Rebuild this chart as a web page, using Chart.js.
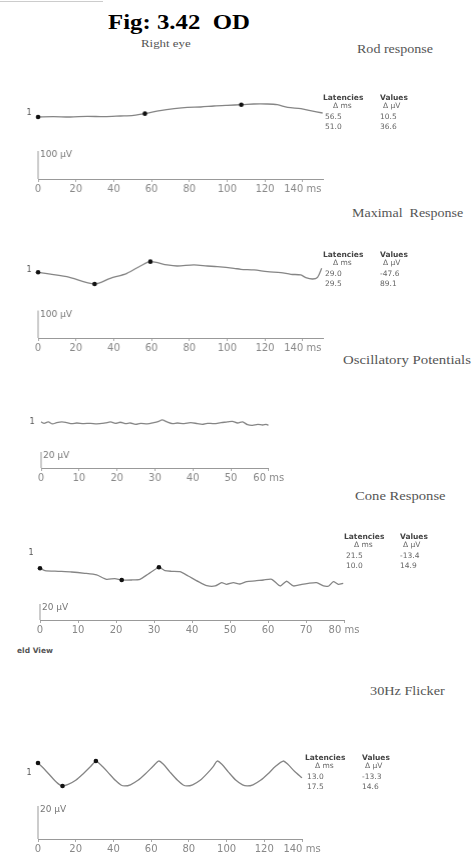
<!DOCTYPE html>
<html>
<head>
<meta charset="utf-8">
<script src="https://cdn.jsdelivr.net/npm/chart.js@4.4.1/dist/chart.umd.min.js"></script>
<style>
  body { margin:0; background:#fff; width:474px; height:861px; position:relative; overflow:hidden; }
  .abs { position:absolute; white-space:pre; line-height:1; }
  .serif { font-family:"Liberation Serif","Times New Roman",serif; color:#555; transform:scaleX(1.17); transform-origin:left center; }
  .tbl { font-family:"DejaVu Sans",sans-serif; font-size:7.5px; color:#666; }
  .tbl.hd { font-weight:bold; color:#444; }
  .panel { position:absolute; }
</style>
</head>
<body>
<div class="abs" style="left:0;top:1px;width:103px;height:1px;background:#ccc"></div>
<div class="abs" style="left:108px;top:11px;font:bold 20px 'Liberation Serif',serif;color:#000;transform:scaleX(1.24);transform-origin:left center">Fig: 3.42  OD</div>
<div class="abs serif" style="left:141px;top:37.5px;font-size:11px">Right eye</div>
<div class="abs serif" style="left:357px;top:43px;font-size:12px">Rod response</div>
<div class="abs serif" style="left:352px;top:207px;font-size:12.5px;transform:scaleX(1.12)">Maximal  Response</div>
<div class="abs serif" style="left:343px;top:353.5px;font-size:12.5px;transform:scaleX(1.185)">Oscillatory Potentials</div>
<div class="abs serif" style="left:355px;top:489.5px;font-size:12.5px">Cone Response</div>
<div class="abs serif" style="left:370px;top:684.5px;font-size:12.5px;transform:scaleX(1.14)">30Hz Flicker</div>
<div class="abs tbl hd" style="left:17px;top:647px;color:#555">eld View</div>

<script>
// ── data ──────────────────────────────────────────
// Rod response (ms, µV relative to start)
var rodMs = [0, 8, 17, 26, 35, 43.5, 50.5, 56.5, 64.5, 72, 79, 86, 93, 100, 108, 114, 121, 126.5, 132, 139, 144, 150.5];
var rodUv = [0, 1.2, 0, 2.4, 1.2, 3.6, 6, 12, 22.6, 29.8, 34.5, 35.7, 39.3, 41.7, 44, 46.4, 46.4, 44, 34.5, 29.8, 22.6, 14.3];
var rodMarkMs = [0, 56.5, 107.5];
var rodMarkUv = [0, 12, 43.6];
var rodLat = ['56.5', '51.0'];
var rodVal = ['10.5', '36.6'];

// Maximal response
var maxMs = [0, 15.2, 29.9, 38.2, 47, 54.1, 59.4, 68.3, 73.6, 82.4, 89.5, 94.8, 103.6, 107.2, 114.2, 121.3, 128.4, 133.7, 139, 141.6, 145.2, 147.8, 150];
var maxUv = [0, -15.8, -42.5, -21.8, -3.6, 23, 38.8, 26.7, 23, 26.7, 23, 20.6, 14.6, 10.9, 8.5, 2.4, -1.2, -7.3, -9.7, -19.4, -24.3, -18.2, 14.6];
var maxMarkMs = [0, 29.9, 59.4];
var maxMarkUv = [0, -42.5, 38.8];
var maxLat = ['29.0', '29.5'];
var maxVal = ['-47.6', '89.1'];

// Oscillatory potentials
var opMs = [0, 0.8, 1.9, 3.0, 4.1, 5.5, 6.8, 8.1, 9.4, 11.2, 13.0, 14.7, 16.9, 18.3, 19.6, 20.9, 22.2, 23.5, 24.9, 26.2,
            28.0, 29.7, 31.0, 31.9, 33.2, 34.6, 35.9, 37.7, 39.4, 41.2, 42.5, 43.8, 45.6, 47.4, 49.1, 50.4, 51.8, 53.1, 54.4, 55.7,
            57.1, 58.4, 59.3, 59.9];
var opUv = [1.7, 0, 1.7, -0.8, 0.8, 1.7, 0.8, -0.4, 0.4, -0.4, 0, -0.8, 0.4, 1.7, 0, 1.3, -0.4, 0.4, -1.3, 0,
            -0.8, 0.8, 2.5, 4.2, 1.7, -0.4, 0.4, -0.4, 0.8, -0.4, -1.3, 0, -0.4, 0.8, 1.7, 2.5, 0.4, 1.7, -1.7, -2.5,
            -1.3, -2.1, -1.3, -2.5];

// Cone response
var coneMs = [0, 1.3, 4.8, 8.3, 11.8, 14.9, 17.5, 19.7, 21.5, 24.1, 26.3, 28.5, 31.3, 32.9, 34.6, 36.8, 39.0, 41.7, 43.9, 46.1,
              47.8, 49.1, 50.9, 52.6, 54.4, 56.6, 58.8, 61.0, 63.2, 64.9, 66.7, 68.9, 70.6, 72.8, 74.6, 76.0, 77.2, 78.5, 79.8];
var coneUv = [0, -2.9, -3.75, -4.6, -6.25, -8.3, -13.75, -12.9, -14.6, -14.6, -13.75, -7.1, 1.25, -2.9, -3.75, -4.2, -9.6, -16.7, -21.7, -22.1,
              -17.9, -20, -17.9, -19.6, -16.7, -15.8, -14.6, -13.75, -22.1, -16.2, -22.1, -20, -18.75, -17.9, -22.1, -22.1, -16.7, -20, -18.75];
var coneMarkMs = [0, 21.5, 31.3];
var coneMarkUv = [0, -14.6, 1.25];
var coneLat = ['21.5', '10.0'];
var coneVal = ['-13.4', '14.9'];

// 30Hz flicker
var flkMs = [0, 4, 8, 11, 13, 16, 20, 24, 28, 30.7, 33, 37, 41, 44, 46, 49, 53, 57, 61, 64,
             66.5, 70, 74, 77, 79, 82, 86, 90, 93, 95, 97.5, 101, 105, 108.5, 111, 114, 118, 122, 126, 130,
             132.5, 136, 140];
var flkUv = [0, -4.5, -9.5, -12.8, -13.9, -13, -10.5, -6.5, -2, 1.2, -0.8, -5.5, -10.5, -13.3, -13.9, -13.2, -10.5, -6.5, -2, 1.2,
             -0.8, -5.5, -10.5, -13.3, -13.9, -13.2, -10.5, -6, -2, 1.2, -0.8, -5.5, -10.5, -13.3, -13.9, -13.2, -10.5, -6.5, -2, 1.2,
             -0.8, -5, -9];
var flkMarkMs = [0, 13, 30.7];
var flkMarkUv = [0, -13.9, 1.2];
var flkLat = ['13.0', '17.5'];
var flkVal = ['-13.3', '14.6'];

// tick labels
var ticks140 = [0, 20, 40, 60, 80, 100, 120, 140];
var ticks60  = [0, 10, 20, 30, 40, 50, 60];
var ticks80  = [0, 10, 20, 30, 40, 50, 60, 70, 80];

// ── helpers ───────────────────────────────────────
function zip(xs, ys) {
  return xs.map(function (x, i) { return { x: x, y: ys[i] }; });
}

var ergText = {
  id: 'ergText',
  afterDatasetsDraw: function (chart, args, o) {
    var ctx = chart.ctx, xs = chart.scales.x, ys = chart.scales.y;
    var x0 = xs.getPixelForValue(0);
    ctx.save();
    ctx.textBaseline = 'middle';
    ctx.font = '9px "DejaVu Sans", sans-serif';
    ctx.fillStyle = '#777';
    ctx.textAlign = 'left';
    ctx.fillText(o.scaleText, x0 + 2, ys.getPixelForValue(ys.min + o.scaleValue) + 4);
    ctx.font = '8px "DejaVu Sans", sans-serif';
    ctx.fillStyle = '#555';
    ctx.textAlign = 'center';
    ctx.fillText('1', x0 - 9, ys.getPixelForValue(o.oneAt));
    ctx.restore();
  }
};

function makePanel(p) {
  var padL = 26, padR = 26, padT = 4, axisH = 22;
  var plotW = p.xMax * p.pxms, plotH = p.axisY - p.topY;
  var wrap = document.createElement('div');
  wrap.className = 'panel';
  wrap.style.left = (p.x0 - padL) + 'px';
  wrap.style.top = (p.topY - padT) + 'px';
  wrap.style.width = (padL + plotW + padR) + 'px';
  wrap.style.height = (padT + plotH + axisH) + 'px';
  var cv = document.createElement('canvas');
  wrap.appendChild(cv);
  document.body.appendChild(wrap);

  var yMin = -(p.axisY - p.baseY) * p.uvpx;
  var yMax = (p.baseY - p.topY) * p.uvpx;
  var last = p.ticks[p.ticks.length - 1];
  var datasets = [
    { data: zip(p.ms, p.uv), borderColor: '#858585', borderWidth: 1.3, pointRadius: 0, tension: p.tension || 0, clip: false, order: 2 },
    { data: [{ x: 0, y: yMin }, { x: 0, y: yMin + p.scale }], borderColor: '#999', borderWidth: 1, pointRadius: 0, clip: false, order: 3 }
  ];
  if (p.markMs) {
    datasets.push({ data: zip(p.markMs, p.markUv), showLine: false, pointRadius: 2.3, pointBackgroundColor: '#111',
      pointBorderWidth: 0, clip: false, order: 1 });
  }

  new Chart(cv, {
    type: 'line',
    data: { datasets: datasets },
    options: {
      animation: false,
      responsive: true,
      maintainAspectRatio: false,
      layout: { padding: { left: padL, right: padR, top: padT, bottom: 0 } },
      plugins: {
        legend: { display: false },
        tooltip: { enabled: false },
        ergText: { scaleText: p.scaleText, scaleValue: p.scale, oneAt: p.oneAt }
      },
      scales: {
        x: {
          type: 'linear', min: 0, max: p.xMax,
          afterBuildTicks: function (axis) { axis.ticks = p.ticks.map(function (v) { return { value: v }; }); },
          afterFit: function (axis) { axis.height = axisH; },
          border: { display: true, color: '#999', width: 1 },
          grid: { display: true, drawOnChartArea: false, drawTicks: true, tickLength: 3, color: '#aaa' },
          ticks: {
            color: '#888', padding: 1, maxRotation: 0, autoSkip: false,
            font: { family: '"DejaVu Sans", sans-serif', size: 10 },
            callback: function (v) { return v === last ? v + ' ms' : v; }
          }
        },
        y: { display: false, min: yMin, max: yMax }
      }
    },
    plugins: [ergText]
  });
}

function txt(cls, s, left, cy) {
  var d = document.createElement('div');
  d.className = 'abs tbl' + (cls ? ' ' + cls : '');
  d.textContent = s;
  d.style.left = left + 'px';
  d.style.top = (cy - 3.75) + 'px';
  document.body.appendChild(d);
}

function makeTable(tx, vx, hy, lat, val) {
  txt('hd', 'Latencies', tx, hy);
  txt('', 'Δ ms', tx + 10, hy + 8);
  txt('hd', 'Values', vx, hy);
  txt('', 'Δ µV', vx + 3, hy + 8);
  for (var i = 0; i < lat.length; i++) {
    txt('', lat[i], tx + 2, hy + 19.5 + i * 10);
    txt('', val[i], vx, hy + 19.5 + i * 10);
  }
}

// ── panels ────────────────────────────────────────
makePanel({ ms: rodMs, uv: rodUv, markMs: rodMarkMs, markUv: rodMarkUv, ticks: ticks140,
  x0: 38, pxms: 1.885, xMax: 151, topY: 80, axisY: 179, baseY: 117, uvpx: 3.57,
  scale: 100, scaleText: '100 µV', oneAt: 14, tension: 0.3 });
makePanel({ ms: maxMs, uv: maxUv, markMs: maxMarkMs, markUv: maxMarkUv, ticks: ticks140,
  x0: 38, pxms: 1.885, xMax: 151, topY: 235, axisY: 338, baseY: 272.3, uvpx: 3.64,
  scale: 100, scaleText: '100 µV', oneAt: 7, tension: 0.3 });
makePanel({ ms: opMs, uv: opUv, ticks: ticks60,
  x0: 41, pxms: 3.78, xMax: 60, topY: 395, axisY: 468, baseY: 423.3, uvpx: 1.25,
  scale: 20, scaleText: '20 µV', oneAt: 1.6, tension: 0.3 });
makePanel({ ms: coneMs, uv: coneUv, markMs: coneMarkMs, markUv: coneMarkUv, ticks: ticks80,
  x0: 40, pxms: 3.8, xMax: 80, topY: 530, axisY: 620, baseY: 568.3, uvpx: 1.25,
  scale: 20, scaleText: '20 µV', oneAt: 19, tension: 0.2 });
makePanel({ ms: flkMs, uv: flkUv, markMs: flkMarkMs, markUv: flkMarkUv, ticks: ticks140,
  x0: 38, pxms: 1.886, xMax: 140, topY: 740, axisY: 839, baseY: 763, uvpx: 0.606,
  scale: 20, scaleText: '20 µV', oneAt: -6, tension: 0.25 });

makeTable(323, 380, 97.5, rodLat, rodVal);
makeTable(323, 380, 254.5, maxLat, maxVal);
makeTable(344, 400, 536.5, coneLat, coneVal);
makeTable(305, 362, 757.5, flkLat, flkVal);
</script>
</body>
</html>
